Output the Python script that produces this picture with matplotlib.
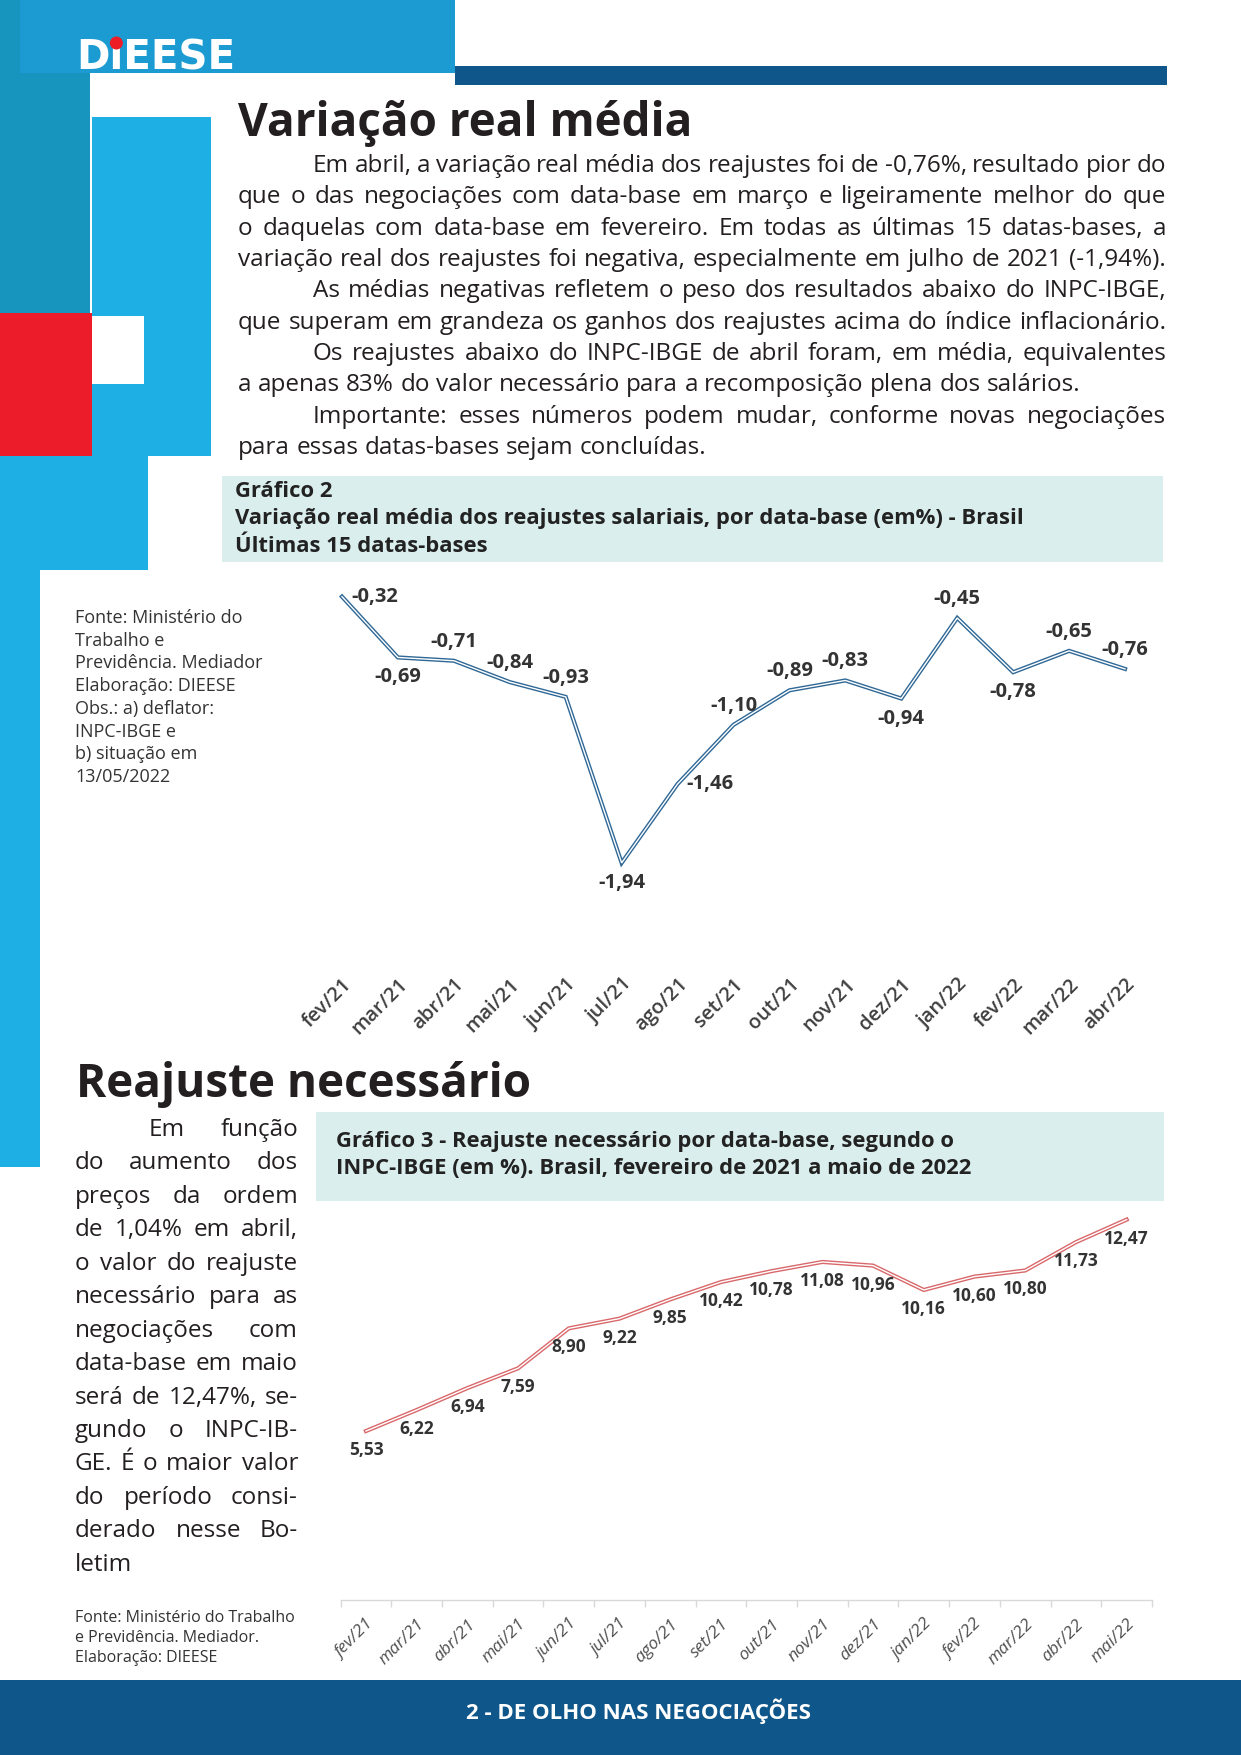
import matplotlib
matplotlib.use('Agg')
import matplotlib.pyplot as plt
import numpy as np
from matplotlib.patches import Rectangle, Circle
from matplotlib.font_manager import FontProperties

# ---------------- data ----------------
cats1 = ['fev/21', 'mar/21', 'abr/21', 'mai/21', 'jun/21', 'jul/21', 'ago/21', 'set/21',
         'out/21', 'nov/21', 'dez/21', 'jan/22', 'fev/22', 'mar/22', 'abr/22']
vals1 = [-0.32, -0.69, -0.71, -0.84, -0.93, -1.94, -1.46, -1.10,
         -0.89, -0.83, -0.94, -0.45, -0.78, -0.65, -0.76]
place1 = ['right', 'below', 'above', 'above', 'above', 'below', 'right', 'above',
          'above', 'above', 'below', 'above', 'below', 'above', 'above']

cats3 = ['fev/21', 'mar/21', 'abr/21', 'mai/21', 'jun/21', 'jul/21', 'ago/21', 'set/21',
         'out/21', 'nov/21', 'dez/21', 'jan/22', 'fev/22', 'mar/22', 'abr/22', 'mai/22']
vals3 = [5.53, 6.22, 6.94, 7.59, 8.90, 9.22, 9.85, 10.42,
         10.78, 11.08, 10.96, 10.16, 10.60, 10.80, 11.73, 12.47]

body_lines = [
    "Em abril, a variação real média dos reajustes foi de -0,76%, resultado pior do",
    "que o das negociações com data-base em março e ligeiramente melhor do que",
    "o daquelas com data-base em fevereiro. Em todas as últimas 15 datas-bases, a",
    "variação real dos reajustes foi negativa, especialmente em julho de 2021 (-1,94%).",
    "As médias negativas refletem o peso dos resultados abaixo do INPC-IBGE,",
    "que superam em grandeza os ganhos dos reajustes acima do índice inflacionário.",
    "Os reajustes abaixo do INPC-IBGE de abril foram, em média, equivalentes",
    "a apenas 83% do valor necessário para a recomposição plena dos salários.",
    "Importante: esses números podem mudar, conforme novas negociações",
    "para essas datas-bases sejam concluídas.",
]
body_indent = [1, 0, 0, 0, 1, 0, 1, 0, 1, 0]
body_just = [1, 1, 1, 1, 1, 1, 1, 0, 1, 0]

col_lines = [
    "Em função", "do aumento dos", "preços da ordem", "de 1,04% em abril,",
    "o valor do reajuste", "necessário para as", "negociações com",
    "data-base em maio", "será de 12,47%, se-", "gundo o INPC-IB-",
    "GE. É o maior valor", "do período consi-", "derado nesse Bo-", "letim",
]
col_indent = [1] + [0] * 13
col_just = [1] * 13 + [0]

note1 = ["Fonte: Ministério do", "Trabalho e", "Previdência. Mediador",
         "Elaboração: DIEESE", "Obs.: a) deflator:", "INPC-IBGE e",
         "b) situação em", "13/05/2022"]
note3 = ["Fonte: Ministério do Trabalho", "e Previdência. Mediador.",
         "Elaboração: DIEESE"]

title1 = "Variação real média"
title2 = "Reajuste necessário"
head2 = ["Gráfico 2",
         "Variação real média dos reajustes salariais, por data-base (em%) - Brasil",
         "Últimas 15 datas-bases"]
head3 = ["Gráfico 3 - Reajuste necessário por data-base, segundo o",
         "INPC-IBGE (em %). Brasil, fevereiro de 2021 a maio de 2022"]
footer = "2 - DE OLHO NAS NEGOCIAÇÕES"

# ---------------- setup ----------------
W, H, DPI = 1241, 1755, 100
FONT = 'Open Sans'
plt.rcParams['font.family'] = ['Open Sans', 'DejaVu Sans']
TXT = '#231f20'
DARK = '#333333'

fig = plt.figure(figsize=(W / DPI, H / DPI), dpi=DPI)
fig.patch.set_facecolor('white')
bg = fig.add_axes([0, 0, 1, 1])
bg.set_xlim(0, W)
bg.set_ylim(H, 0)
bg.axis('off')
r = fig.canvas.get_renderer()


def rect(x0, y0, x1, y1, c, z=1):
    bg.add_patch(Rectangle((x0, y0), x1 - x0, y1 - y0, facecolor=c, edgecolor='none', zorder=z))


def tw(s, fp):
    return r.get_text_width_height_descent(s, fp, ismath=False)[0]


def para(lines, x0, x1, y0, dy, fs_max, indents, just, ind_px, color=TXT):
    fs = fs_max
    while fs > 8:
        fp = FontProperties(family=FONT, size=fs)
        ok = True
        for i, line in enumerate(lines):
            words = line.split(' ')
            avail = x1 - x0 - (ind_px if indents[i] else 0)
            need = sum(tw(w, fp) for w in words) + (len(words) - 1) * 0.2 * fs * DPI / 72
            if need > avail:
                ok = False
                break
        if ok:
            break
        fs -= 0.25
    fp = FontProperties(family=FONT, size=fs)
    sp = tw('a a', fp) - tw('aa', fp)
    for i, line in enumerate(lines):
        words = line.split(' ')
        ws = [tw(w, fp) for w in words]
        start = x0 + (ind_px if indents[i] else 0)
        if just[i] and len(words) > 1:
            gap = (x1 - start - sum(ws)) / (len(words) - 1)
        else:
            gap = sp
        x = start
        y = y0 + i * dy
        for w, ww in zip(words, ws):
            bg.text(x, y, w, fontproperties=fp, color=color, va='baseline', ha='left', zorder=5)
            x += ww + gap


# ---------------- decorative blocks ----------------
TEAL = '#1795bf'
BAND = '#1b9bd1'
LBLUE = '#1eb0e4'
RED = '#ed1c2a'
NAVY = '#0f578a'

rect(0, 0, 90, 313, TEAL)
rect(20, 0, 455, 73, BAND)
rect(92, 117, 211, 456, LBLUE)
rect(0, 313, 92, 456, RED)
rect(92, 316, 144, 384, 'white', z=2)
rect(0, 456, 148, 570, LBLUE)
rect(0, 570, 40, 1167, LBLUE)
rect(455, 66, 1167, 85, NAVY)
rect(0, 1680, W, 1755, '#0f568a')

# logo
fpl = FontProperties(family='DejaVu Sans', size=29, weight='bold')
bg.text(76, 69, 'D\u0131EESE', fontproperties=fpl, color='white', va='baseline', ha='left', zorder=5)
xd = 76 + tw('D', fpl) + tw('\u0131', fpl) / 2
bg.add_patch(Circle((xd, 43), 6.5, facecolor='#ee1c25', edgecolor='none', zorder=6))

# ---------------- text ----------------
bg.text(238, 136, title1, fontsize=33, fontweight='bold', color=TXT, va='baseline', ha='left')
bg.text(76, 1097, title2, fontsize=33, fontweight='bold', color=TXT, va='baseline', ha='left')

para(body_lines, 238, 1166, 172, 31.35, 17.5, body_indent, body_just, 75)
para(col_lines, 75, 298, 1136, 33.45, 17.5, col_indent, col_just, 74)

for i, s in enumerate(note1):
    bg.text(75, 618 + 22.7 * i, s, fontsize=13, color=DARK, va='center', ha='left')
for i, s in enumerate(note3):
    bg.text(75, 1618 + 20 * i, s, fontsize=11.5, color=DARK, va='center', ha='left')

# header boxes
HEADBG = '#daeeed'
rect(222, 476, 1163, 562, HEADBG)
for i, s in enumerate(head2):
    bg.text(235, 491 + 27.5 * i, s, fontsize=15.8, fontweight='bold', color='#222222', va='center', ha='left')
rect(316, 1112, 1164, 1201, HEADBG)
for i, s in enumerate(head3):
    bg.text(336, 1142 + 26 * i, s, fontsize=15.8, fontweight='bold', color='#222222', va='center', ha='left')

bg.text(639, 1711, footer, fontsize=16, fontweight='bold', color='white', va='center', ha='center')


def fmt(v):
    return f"{v:.2f}".replace('.', ',')


# ---------------- chart 2 (variação real) ----------------
ax1 = fig.add_axes([314 / W, 1 - 955 / H, (1153 - 314) / W, (955 - 544) / H])
ax1.set_xlim(-0.5, len(cats1) - 0.5)
ax1.set_ylim(-2.5, 0)
ax1.patch.set_alpha(0)
for s in ax1.spines.values():
    s.set_visible(False)
x1 = np.arange(len(cats1))
ax1.plot(x1, vals1, color='#2f6896', lw=3.0, solid_joinstyle='miter', zorder=3)
ax1.plot(x1, vals1, color='white', lw=1.0, solid_joinstyle='miter', zorder=4)
ax1.set_yticks([])
ax1.set_xticks(x1)
ax1.set_xticklabels(cats1, rotation=45, ha='right', rotation_mode='anchor',
                    fontsize=14.5, fontweight='semibold', color='#404040')
ax1.tick_params(axis='x', length=0, pad=14)
for xi, v, p in zip(x1, vals1, place1):
    if p == 'above':
        off, ha = (0, 19), 'center'
    elif p == 'below':
        off, ha = (0, -20), 'center'
    else:
        off, ha = (9, 0), 'left'
    ax1.annotate(fmt(v), (xi, v), xytext=off, textcoords='offset pixels', ha=ha, va='center',
                 fontsize=14.5, fontweight='bold', color=DARK, zorder=5)

# ---------------- chart 3 (reajuste necessário) ----------------
ax3 = fig.add_axes([340.6 / W, 1 - 1599.5 / H, (1152 - 340.6) / W, (1599.5 - 1173) / H])
ax3.set_xlim(-0.5, len(cats3) - 0.5)
ax3.set_ylim(0, 14)
ax3.patch.set_alpha(0)
for k, s in ax3.spines.items():
    s.set_visible(k == 'bottom')
ax3.spines['bottom'].set_color('#d9d9d9')
ax3.spines['bottom'].set_linewidth(1)
x3 = np.arange(len(cats3))
ax3.plot(x3, vals3, color='#d9686b', lw=3.0, solid_joinstyle='miter', zorder=3)
ax3.plot(x3, vals3, color='white', lw=1.0, solid_joinstyle='miter', zorder=4)
ax3.set_yticks([])
ax3.set_xticks(x3)
ax3.set_xticks(np.arange(-0.5, len(cats3), 1), minor=True)
ax3.set_xticklabels(cats3, rotation=45, ha='right', rotation_mode='anchor',
                    fontsize=12.5, fontstyle='italic', color='#505050')
ax3.tick_params(axis='x', which='major', length=0, pad=12)
ax3.tick_params(axis='x', which='minor', length=5, color='#d9d9d9', width=1)
for xi, v in zip(x3, vals3):
    ax3.annotate(fmt(v), (xi, v), xytext=(0, -19), textcoords='offset pixels', ha='center',
                 va='center', fontsize=12.5, fontweight='bold', color=DARK, zorder=5)

fig.savefig('out.png', dpi=DPI, facecolor='white')
